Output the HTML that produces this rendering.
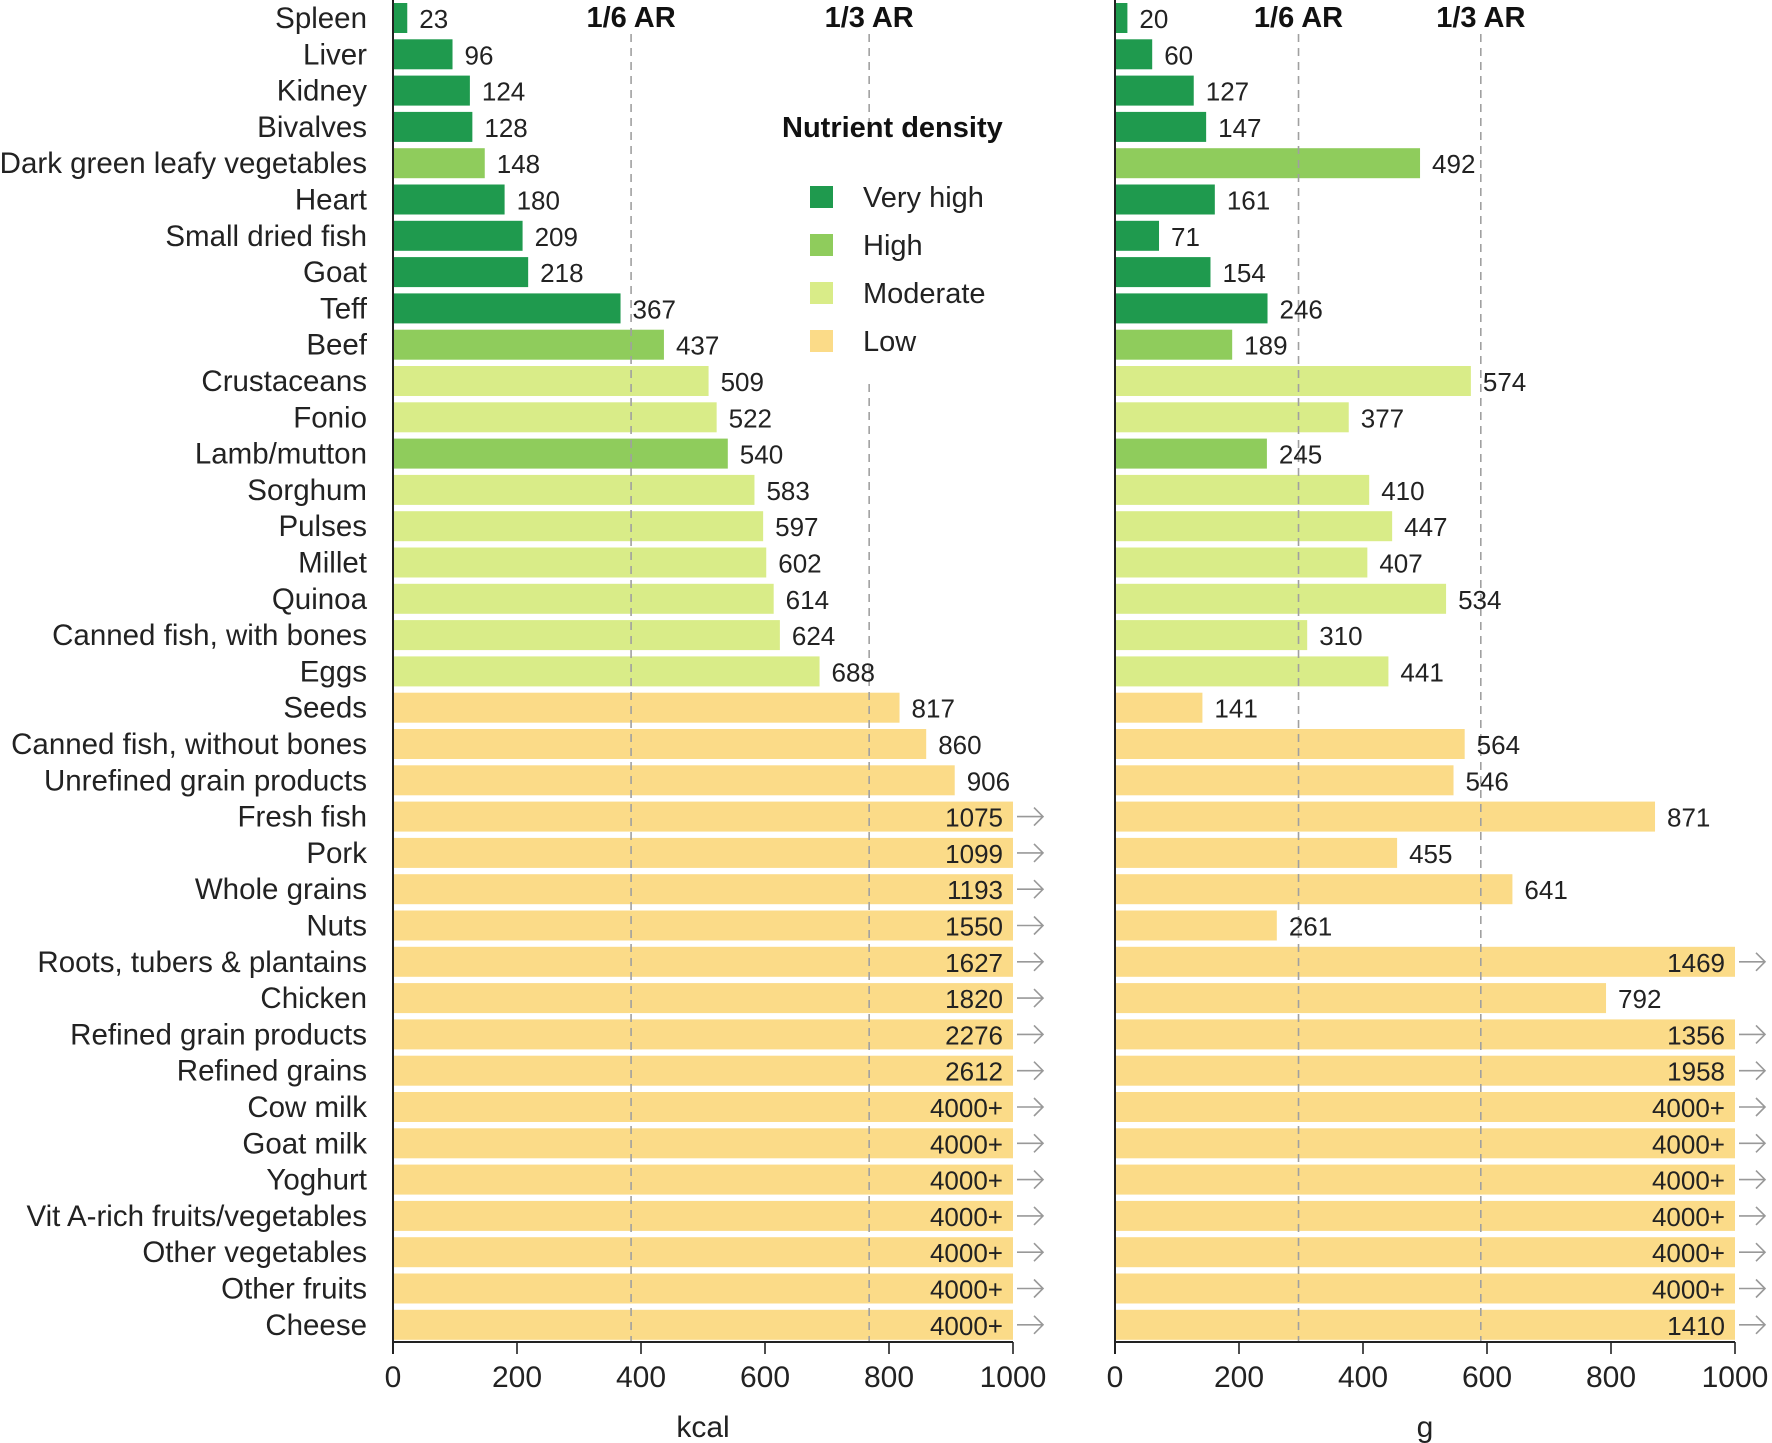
<!DOCTYPE html>
<html><head><meta charset="utf-8">
<style>
html,body{margin:0;padding:0;background:#fff;}
svg{display:block;font-family:"Liberation Sans",sans-serif;}
</style></head>
<body>
<svg id="chart" width="1772" height="1443" viewBox="0 0 1772 1443" xmlns="http://www.w3.org/2000/svg"></svg>
<script>
const categories = ["Spleen","Liver","Kidney","Bivalves","Dark green leafy vegetables","Heart","Small dried fish","Goat","Teff","Beef","Crustaceans","Fonio","Lamb/mutton","Sorghum","Pulses","Millet","Quinoa","Canned fish, with bones","Eggs","Seeds","Canned fish, without bones","Unrefined grain products","Fresh fish","Pork","Whole grains","Nuts","Roots, tubers & plantains","Chicken","Refined grain products","Refined grains","Cow milk","Goat milk","Yoghurt","Vit A-rich fruits/vegetables","Other vegetables","Other fruits","Cheese"];
const density = ["VH","VH","VH","VH","H","VH","VH","VH","VH","H","M","M","H","M","M","M","M","M","M","L","L","L","L","L","L","L","L","L","L","L","L","L","L","L","L","L","L"];
const kcalValues = [23,96,124,128,148,180,209,218,367,437,509,522,540,583,597,602,614,624,688,817,860,906,1075,1099,1193,1550,1627,1820,2276,2612,4000,4000,4000,4000,4000,4000,4000];
const gramValues = [20,60,127,147,492,161,71,154,246,189,574,377,245,410,447,407,534,310,441,141,564,546,871,455,641,261,1469,792,1356,1958,4000,4000,4000,4000,4000,4000,1410];
const kcalPlusFlags = [0,0,0,0,0,0,0,0,0,0,0,0,0,0,0,0,0,0,0,0,0,0,0,0,0,0,0,0,0,0,1,1,1,1,1,1,1];
const gramPlusFlags = [0,0,0,0,0,0,0,0,0,0,0,0,0,0,0,0,0,0,0,0,0,0,0,0,0,0,0,0,0,0,1,1,1,1,1,1,0];
const xTicks = [0,200,400,600,800,1000];
const kcalRefs = [384,768];
const gramRefs = [296,590];
const refLabels = ["1/6 AR","1/3 AR"];
const legendKeys = ["VH","H","M","L"];
const legendLabels = ["Very high","High","Moderate","Low"];

const colors = {VH:"#1f9a4e",H:"#8fcc5c",M:"#d9ec88",L:"#fbdb88"};
const NS = "http://www.w3.org/2000/svg";
const svg = document.getElementById("chart");
function mk(tag, attrs, parent){const e=document.createElementNS(NS,tag);for(const k in attrs)e.setAttribute(k,attrs[k]);(parent||svg).appendChild(e);return e;}
const rowY = i => 18 + i*36.3;
const BAR_H = 30, AXIS_Y = 1342, MAXV = 1000;

function panel(x0, x1, values, flags, refs, unit, pname){
  const sx = v => x0 + (Math.min(v,MAXV)/MAXV)*(x1-x0);
  const g = mk("g",{});
  
  
  values.forEach((v,i)=>{
    const cy = rowY(i);
    const r = mk("rect",{x:x0,y:cy-BAR_H/2,width:sx(v)-x0,height:BAR_H,fill:colors[density[i]]},g);
    
    
  });
  refs.forEach((rv,k)=>{
    const x = sx(rv);
    const segs = (pname==="kcal" && k===1) ? [[34,128],[384,AXIS_Y]] : [[34,AXIS_Y]];
    segs.forEach(s=>{
      const l = mk("line",{x1:x,x2:x,y1:s[0],y2:s[1],stroke:"#a0a0a0","stroke-width":1.6,"stroke-dasharray":"8 6"},g);
      
      
    });
    const t = mk("text",{x:x,y:27,"text-anchor":"middle","font-size":29,"font-weight":"bold",fill:"#111"},g);
    t.textContent = refLabels[k];
    
    
  });
  values.forEach((v,i)=>{
    const cy = rowY(i);
    let t;
    if (v > MAXV){
      t = mk("text",{x:x1-10,y:cy+10,"text-anchor":"end","font-size":26,fill:"#222"},g);
      const a = mk("path",{d:`M${x1+4} ${cy} H${x1+30} M${x1+21} ${cy-9} L${x1+30} ${cy} L${x1+21} ${cy+9}`,stroke:"#999",fill:"none","stroke-width":1.6},g);
      
      
    } else {
      t = mk("text",{x:sx(v)+12,y:cy+10,"font-size":26,fill:"#222"},g);
    }
    t.textContent = (flags[i] ? v+"+" : String(v));
    
    
  });
  const ax = mk("line",{x1:x0,x2:x1,y1:AXIS_Y,y2:AXIS_Y,stroke:"#222","stroke-width":2},g);
  
  
  const yl = mk("line",{x1:x0,x2:x0,y1:0,y2:AXIS_Y+12,stroke:"#222","stroke-width":2},g);
  
  
  xTicks.forEach(tv=>{
    const x = sx(tv);
    const tk = mk("line",{x1:x,x2:x,y1:AXIS_Y,y2:AXIS_Y+12,stroke:"#222","stroke-width":1.6},g);
    
    
    const tl = mk("text",{x:x,y:1387,"text-anchor":"middle","font-size":30,fill:"#222"},g);
    tl.textContent = tv;
    
    
  });
  const ttl = mk("text",{x:(x0+x1)/2,y:1437,"text-anchor":"middle","font-size":30,fill:"#222"},g);
  ttl.textContent = unit;
  
  
}

categories.forEach((c,i)=>{
  const t = mk("text",{x:367,y:rowY(i)+10,"text-anchor":"end","font-size":29.5,fill:"#222"});
  t.textContent = c;
  
  
});

panel(393,1013,kcalValues,kcalPlusFlags,kcalRefs,"kcal","kcal");
panel(1115,1735,gramValues,gramPlusFlags,gramRefs,"g","gram");

const lg = mk("g",{});


const lt = mk("text",{x:782,y:137,"font-size":29,"font-weight":"bold",fill:"#111"},lg);
lt.textContent = "Nutrient density";


legendKeys.forEach((k,i)=>{
  const y = 197 + i*48;
  const r = mk("rect",{x:810,y:y-11,width:23,height:22,fill:colors[k]},lg);
  
  
  const t = mk("text",{x:863,y:y+10,"font-size":29,fill:"#222"},lg);
  t.textContent = legendLabels[i];
  
  
});
</script>
</body></html>
